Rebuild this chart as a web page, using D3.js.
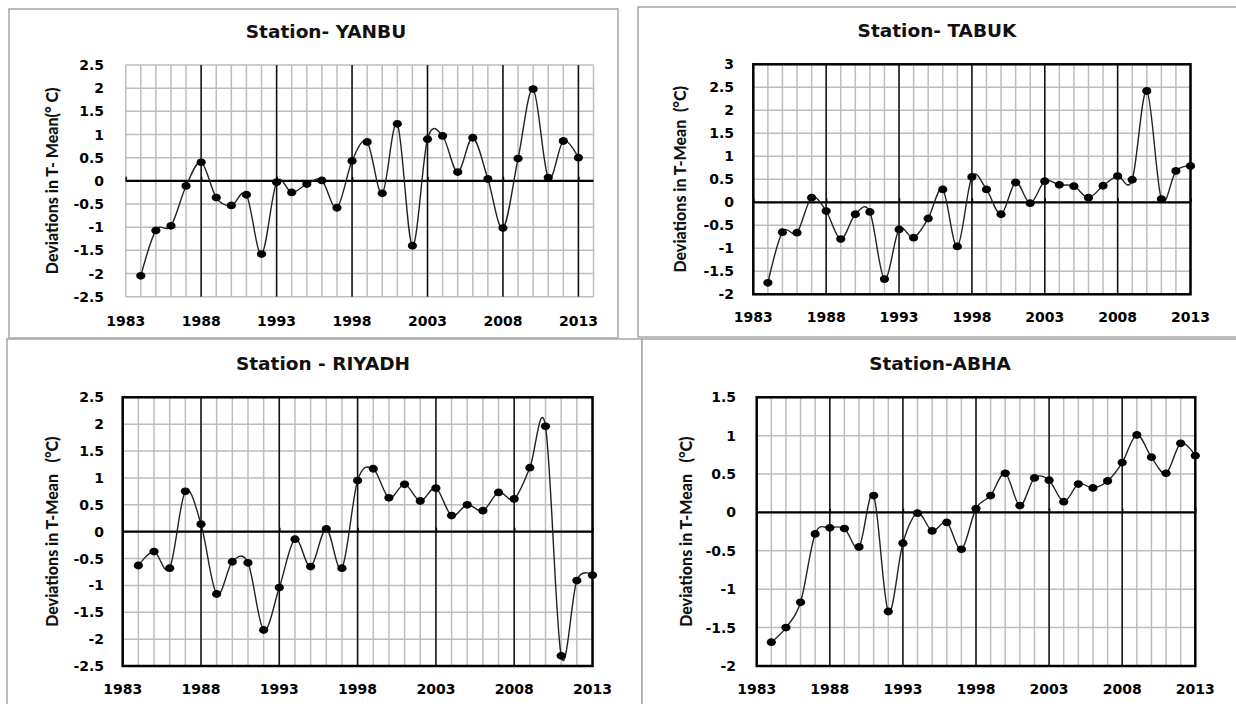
<!DOCTYPE html>
<html>
<head>
<meta charset="utf-8">
<script src="https://cdn.jsdelivr.net/npm/d3@7"></script>
<style>
  html, body { margin: 0; padding: 0; background: #ffffff; }
  svg { display: block; }
  text { white-space: pre; }
</style>
</head>
<body>
<svg id="chart" width="1236" height="704"></svg>
<script>
// Annual mean temperature deviations (°C), 1984–2013
const years = d3.range(1984, 2014);

const yanbuValues = [
  -2.05, -1.07, -0.97, -0.11, 0.40, -0.36, -0.53, -0.30, -1.58, -0.03,
  -0.25, -0.07, 0.01, -0.58, 0.43, 0.84, -0.27, 1.23, -1.40, 0.90,
  0.97, 0.19, 0.93, 0.04, -1.02, 0.48, 1.98, 0.07, 0.86, 0.50
];
const tabukValues = [
  -1.75, -0.65, -0.66, 0.10, -0.19, -0.80, -0.26, -0.21, -1.67, -0.59,
  -0.77, -0.35, 0.28, -0.96, 0.55, 0.28, -0.26, 0.43, -0.02, 0.46,
  0.38, 0.35, 0.10, 0.36, 0.57, 0.49, 2.42, 0.07, 0.68, 0.79
];
const riyadhValues = [
  -0.63, -0.37, -0.68, 0.75, 0.14, -1.16, -0.56, -0.58, -1.83, -1.04,
  -0.14, -0.65, 0.05, -0.68, 0.95, 1.17, 0.63, 0.88, 0.57, 0.81,
  0.30, 0.50, 0.39, 0.73, 0.61, 1.19, 1.96, -2.31, -0.91, -0.81
];
const abhaValues = [
  -1.69, -1.50, -1.17, -0.28, -0.20, -0.21, -0.45, 0.22, -1.29, -0.40,
  -0.01, -0.24, -0.13, -0.48, 0.05, 0.22, 0.51, 0.09, 0.45, 0.42,
  0.14, 0.37, 0.32, 0.41, 0.65, 1.01, 0.72, 0.51, 0.90, 0.74
];

// Axis ticks
const xTickLabels = [1983, 1988, 1993, 1998, 2003, 2008, 2013];
const yTicksWide = [-2.5, -2, -1.5, -1, -0.5, 0, 0.5, 1, 1.5, 2, 2.5];
const yTicksTabuk = [-2, -1.5, -1, -0.5, 0, 0.5, 1, 1.5, 2, 2.5, 3];
const yTicksAbha = [-2, -1.5, -1, -0.5, 0, 0.5, 1, 1.5];

// Panel text
const titles = ["Station- YANBU", "Station- TABUK", "Station - RIYADH", "Station-ABHA"];
const yTitles = [
  "Deviations in T- Mean(° C)",
  "Deviations in T-Mean  (°C)",
  "Deviations in T-Mean   (°C)",
  "Deviations in T-Mean   (°C)"
];

const panels = [
  {
    title: titles[0], yTitle: yTitles[0], values: yanbuValues, yTicks: yTicksWide,
    frame: [9, 9, 609, 329],
    plot: { x0: 125.7, x1: 593.5, y0: 65, y1: 296.7 },
    xDomain: [1983, 2014], yDomain: [-2.5, 2.5], darkFrame: false,
    titlePos: [326, 32], yTitleX: 52, xLabelY: 326, tickRight: 104
  },
  {
    title: titles[1], yTitle: yTitles[1], values: tabukValues, yTicks: yTicksTabuk,
    frame: [638, 7, 620, 330],
    plot: { x0: 753.3, x1: 1190.5, y0: 64.3, y1: 294.3 },
    xDomain: [1983, 2013], yDomain: [-2, 3], darkFrame: true,
    titlePos: [937, 31], yTitleX: 680, xLabelY: 322, tickRight: 734
  },
  {
    title: titles[2], yTitle: yTitles[2], values: riyadhValues, yTicks: yTicksWide,
    frame: [7, 339, 635, 380],
    plot: { x0: 122.7, x1: 592.5, y0: 397.3, y1: 666 },
    xDomain: [1983, 2013], yDomain: [-2.5, 2.5], darkFrame: true,
    titlePos: [323, 364], yTitleX: 52, xLabelY: 694, tickRight: 104
  },
  {
    title: titles[3], yTitle: yTitles[3], values: abhaValues, yTicks: yTicksAbha,
    frame: [642, 339, 620, 380],
    plot: { x0: 756.7, x1: 1195.3, y0: 397.3, y1: 666 },
    xDomain: [1983, 2013], yDomain: [-2, 1.5], darkFrame: true,
    titlePos: [940, 364], yTitleX: 686, xLabelY: 694, tickRight: 736
  }
];

const svg = d3.select("#chart");
const labelFont = "'DejaVu Sans', Verdana, sans-serif";
const axisTitleFont = "Lato, 'Open Sans', sans-serif";

function drawPanel(p) {
  const g = svg.append("g");
  const [fx, fy, fw, fh] = p.frame;

  // Outer panel border
  g.append("rect")
    .attr("x", fx).attr("y", fy).attr("width", fw).attr("height", fh)
    .attr("fill", "#ffffff").attr("stroke", "#a6a6a6").attr("stroke-width", 1.5);

  const x = d3.scaleLinear().domain(p.xDomain).range([p.plot.x0, p.plot.x1]);
  const y = d3.scaleLinear().domain(p.yDomain).range([p.plot.y1, p.plot.y0]);

  // Minor vertical grid: every year
  const allYears = d3.range(p.xDomain[0], p.xDomain[1] + 1);
  g.append("g").selectAll("line").data(allYears).join("line")
    .attr("x1", d => x(d)).attr("x2", d => x(d))
    .attr("y1", y(p.yDomain[0])).attr("y2", y(p.yDomain[1]))
    .attr("stroke", "#bdbdbd").attr("stroke-width", 1.5);

  // Horizontal grid
  g.append("g").selectAll("line").data(p.yTicks).join("line")
    .attr("x1", x(p.xDomain[0])).attr("x2", x(p.xDomain[1]))
    .attr("y1", d => y(d)).attr("y2", d => y(d))
    .attr("stroke", "#bdbdbd").attr("stroke-width", 1.5);

  // Major vertical lines every five years
  const majors = xTickLabels.filter(d => d > p.xDomain[0] && d < p.xDomain[1]);
  g.append("g").selectAll("line").data(majors).join("line")
    .attr("x1", d => x(d)).attr("x2", d => x(d))
    .attr("y1", y(p.yDomain[0])).attr("y2", y(p.yDomain[1]))
    .attr("stroke", "#111111").attr("stroke-width", 1.5);

  // Plot frame
  if (p.darkFrame) {
    g.append("rect")
      .attr("x", x(p.xDomain[0])).attr("y", y(p.yDomain[1]))
      .attr("width", x(p.xDomain[1]) - x(p.xDomain[0]))
      .attr("height", y(p.yDomain[0]) - y(p.yDomain[1]))
      .attr("fill", "none").attr("stroke", "#000000").attr("stroke-width", 2.5);
  }

  // Zero axis with small tick marks at the labelled years
  const xAxis = d3.axisTop(x).tickValues(xTickLabels.filter(d => d <= p.xDomain[1]))
    .tickSize(4).tickFormat("");
  const axisG = g.append("g").attr("transform", `translate(0,${y(0)})`).call(xAxis);
  axisG.select(".domain").attr("stroke", "#000").attr("stroke-width", 2.2)
    .attr("d", `M${x(p.xDomain[0])},0H${x(p.xDomain[1])}`);
  axisG.selectAll(".tick line").attr("stroke", "#000").attr("stroke-width", 1.5);

  // Y tick labels
  g.append("g").selectAll("text").data(p.yTicks).join("text")
    .attr("x", p.tickRight).attr("y", d => y(d))
    .attr("dy", "0.36em").attr("text-anchor", "end")
    .attr("font-family", labelFont).attr("font-weight", "bold").attr("font-size", 14)
    .attr("fill", "#000").text(d => d);

  // X tick labels
  g.append("g").selectAll("text").data(xTickLabels).join("text")
    .attr("x", d => x(d)).attr("y", p.xLabelY).attr("text-anchor", "middle")
    .attr("font-family", labelFont).attr("font-weight", "bold").attr("font-size", 14)
    .attr("fill", "#000").text(d => d);

  // Smoothed series line
  const pts = years.map((yr, i) => [yr, p.values[i]]);
  const line = d3.line().x(d => x(d[0])).y(d => y(d[1]))
    .curve(d3.curveCardinal.tension(0));
  g.append("path").datum(pts).attr("d", line)
    .attr("fill", "none").attr("stroke", "#222").attr("stroke-width", 1.4);

  // Markers
  g.append("g").selectAll("ellipse").data(pts).join("ellipse")
    .attr("cx", d => x(d[0])).attr("cy", d => y(d[1]))
    .attr("rx", 4.6).attr("ry", 3.9).attr("fill", "#000");

  // Panel title
  g.append("text").attr("x", p.titlePos[0]).attr("y", p.titlePos[1])
    .attr("dy", "0.35em").attr("text-anchor", "middle")
    .attr("font-family", labelFont).attr("font-weight", "bold").attr("font-size", 18.5)
    .attr("fill", "#111").text(p.title);

  // Y axis title
  const cy = (p.plot.y0 + p.plot.y1) / 2;
  g.append("text")
    .attr("transform", `translate(${p.yTitleX},${cy}) rotate(-90)`)
    .attr("dy", "0.35em").attr("text-anchor", "middle")
    .attr("font-family", axisTitleFont).attr("font-weight", "900").attr("font-size", 16)
    .attr("fill", "#111").text(p.yTitle);
}

panels.forEach(drawPanel);
</script>
</body>
</html>
